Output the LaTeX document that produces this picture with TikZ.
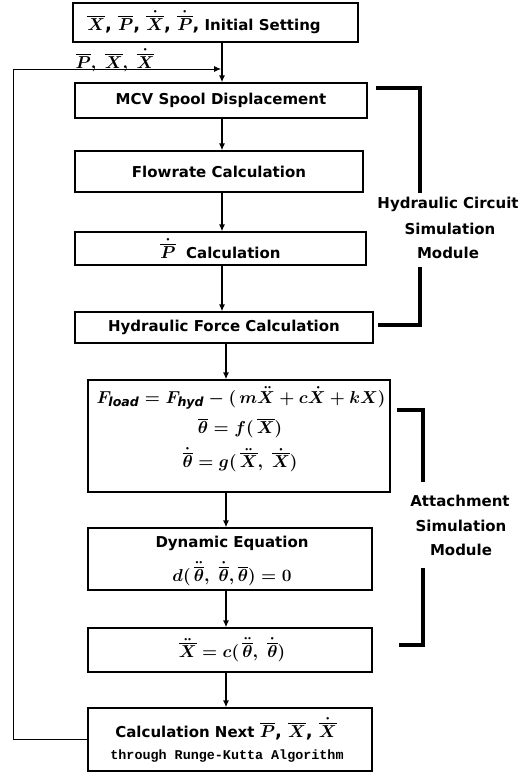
\documentclass[tikz,border=0pt]{standalone}
\usepackage{amsmath}
\usepackage{fontspec}
\setmainfont{DejaVu Sans}
\newfontfamily\monob{Liberation Mono}
\usetikzlibrary{arrows.meta,calc}
\tikzset{
  box/.style={draw,line width=1.3pt,inner sep=0pt,font=\fontsize{15}{17}\selectfont\bfseries\mathversion{bold}},
  txt/.style={inner sep=0pt,font=\fontsize{15}{17}\selectfont\bfseries\mathversion{bold}},
  mth/.style={inner sep=0pt,font=\fontsize{18}{20}\selectfont\mathversion{bold}},
  arr/.style={line width=1.3pt,-{Latex[length=7pt,width=6pt]}},
  fb/.style={line width=0.8pt},
  brk/.style={line width=3.6pt}}
\begin{document}
\begin{tikzpicture}[x=1pt,y=-1pt]
\useasboundingbox (0,0) rectangle (525,774);
% boxes
\node[box,minimum width=285pt,minimum height=39pt] (b1) at (215.5,22.5) {};
\node[txt] (t1) at (204,22) {{\fontsize{18}{20}\selectfont$\overline{X}$, $\overline{P}$, $\dot{\overline{X}}$, $\dot{\overline{P}}$,} Initial Setting};
\node[box,minimum width=292pt,minimum height=35pt] (b2) at (221,100.5) {MCV Spool Displacement};
\node[box,minimum width=288pt,minimum height=41pt] (b3) at (219,171.5) {Flowrate Calculation};
\node[box,minimum width=291pt,minimum height=33pt] (b4) at (220.5,248.5) {{\fontsize{18}{20}\selectfont$\dot{\overline{P}}$}\ \ Calculation};
\node[box,minimum width=298pt,minimum height=31pt] (b5) at (224,327.5) {Hydraulic Force Calculation};
\node[box,minimum width=302pt,minimum height=112pt] (b6) at (239,436) {};
\node[box,minimum width=284pt,minimum height=62pt] (b7) at (230,559) {};
\node[box,minimum width=284pt,minimum height=44pt] (b8) at (230,650) {};
\node[box,minimum width=284pt,minimum height=63pt] (b9) at (230,739.5) {};
% texts in boxes
\node[mth] (e1) at (241,398) {$F_{\mathit{load}} = F_{\mathit{hyd}} - (\,m\ddot{X} + c\dot{X} + kX)$};
\node[mth] (e2) at (240,428) {$\overline{\theta} = f(\,\overline{X})$};
\node[mth] (e3) at (240,460) {$\dot{\overline{\theta}} = g(\,\ddot{\overline{X}},\ \dot{\overline{X}})$};
\node[txt] (d1) at (232,543) {Dynamic Equation};
\node[mth] (d2) at (232,574) {$d(\,\ddot{\overline{\theta}},\ \dot{\overline{\theta}}, \overline{\theta}) = 0$};
\node[mth] (c1) at (232,650) {$\ddot{\overline{X}} = c(\,\ddot{\overline{\theta}},\ \dot{\overline{\theta}})$};
\node[txt] (n1) at (226,729) {Calculation Next {\fontsize{18}{20}\selectfont$\overline{P}$, $\overline{X}$, $\dot{\overline{X}}$}};
\node[inner sep=0pt,font=\fontsize{13.4}{15}\selectfont\monob\bfseries] (n2) at (227,756) {through Runge-Kutta Algorithm};
% feedback label
\node[inner sep=0pt,font=\fontsize{16}{18}\selectfont\mathversion{bold}] (fl) at (115,60) {$\overline{P},\ \overline{X},\ \dot{\overline{X}}$};
% arrow columns
\coordinate (ua) at (222,0);
\coordinate (la) at (226,0);
\draw[arr] (b1.south -| ua) -- (b2.north -| ua);
\draw[arr] (b2.south -| ua) -- (b3.north -| ua);
\draw[arr] (b3.south -| ua) -- (b4.north -| ua);
\draw[arr] (b4.south -| ua) -- (b5.north -| ua);
\draw[arr] (b5.south -| la) -- (b6.north -| la);
\draw[arr] (b6.south -| la) -- (b7.north -| la);
\draw[arr] (b7.south -| la) -- (b8.north -| la);
\draw[arr] (b8.south -| la) -- (b9.north -| la);
% feedback loop
\coordinate (fbl) at (13,69);
\coordinate (fbe) at (221,69);
\draw[fb] (b9.west) -| (fbl);
\draw[fb,-{Latex[length=7pt,width=6pt]}] (fbl) -- (fbe);
% brackets
\draw[brk] (376,88) -- (420,88) -- (420,193);
\draw[brk] (420,267) -- (420,325) -- (378,325);
\node[txt] (h1) at (448,204) {Hydraulic Circuit};
\node[txt] (h2) at (450,229) {Simulation};
\node[txt] (h3) at (448,253) {Module};
\draw[brk] (397,410) -- (423,410) -- (423,482);
\draw[brk] (423,568) -- (423,645) -- (399,645);
\node[txt] (a1) at (460,501) {Attachment};
\node[txt] (a2) at (461,526) {Simulation};
\node[txt] (a3) at (461,550) {Module};
\end{tikzpicture}
\end{document}
